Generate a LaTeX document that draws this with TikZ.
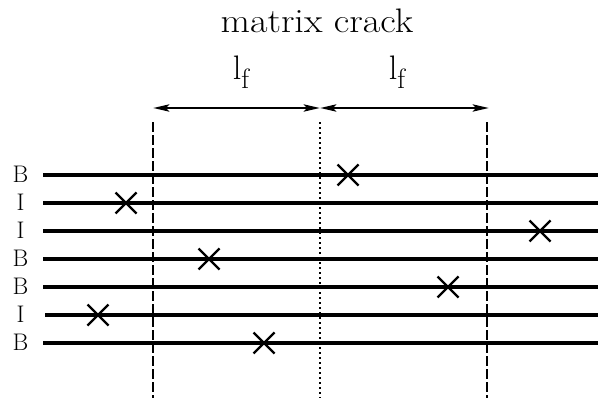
\documentclass[tikz,border=0pt]{standalone}
\usetikzlibrary{arrows.meta}
\begin{document}
\begin{tikzpicture}[x=1pt,y=-1pt,
  fiber/.style={line width=3.3pt},
  lbl/.style={font=\fontsize{24}{26}\selectfont, anchor=base, inner sep=0pt},
  big/.style={font=\fontsize{34}{36}\selectfont, anchor=base, inner sep=0pt},
  brk/.style={line width=2.3pt},
  dashv/.style={line width=2pt, dash pattern=on 10pt off 3pt},
  dotv/.style={line width=2.8pt, dash pattern=on 2.2pt off 2.8pt},
  dim/.style={line width=2.8pt, {Stealth[length=16pt,width=7pt,inset=3pt]}-{Stealth[length=16pt,width=7pt,inset=3pt]}}]
\useasboundingbox (0,0) rectangle (603,404);
% title and labels
\node[big] (title) at (317,33) {\scalebox{1.12}[1]{matrix crack}};
\node[big] (lf1) at (241,80) {l\raisebox{-9pt}{\fontsize{28}{28}\selectfont f}};
\node[big] (lf2) at (397,80) {l\raisebox{-9pt}{\fontsize{28}{28}\selectfont f}};
% vertical lines
\coordinate (dLt) at (153,122); \coordinate (dLb) at (153,398);
\coordinate (dMt) at (320,122); \coordinate (dMb) at (320,398);
\coordinate (dRt) at (487,122); \coordinate (dRb) at (487,398);
\coordinate (aL) at (153,108); \coordinate (aM) at (320,108); \coordinate (aR) at (489,108);
\draw[dim] (aL) -- (aM);
\draw[dim] (aM) -- (aR);
% fibers
\foreach \y/\t/\s [count=\i] in {175/B/43,203/I/43,231/I/43,259/B/43,287/B/43,315/I/45,343/B/43}{
  \node[lbl] (t\i) at (20.5,\y+7.5) {\t};
  \coordinate (s\i) at (\s,\y);
  \coordinate (e\i) at (598,\y);
  \draw[fiber] (s\i) -- (e\i);
}
\draw[dashv] (dLt) -- (dLb);
\draw[dotv] (dMt) -- (dMb);
\draw[dashv] (dRt) -- (dRb);
% breaks
\foreach \x/\y [count=\j] in {126/203,209/259,98/315,264/343,348/175,540/231,448/287}{
  \coordinate (c\j) at (\x,\y);
  \draw[brk] ([shift={(-10.5,-10.5)}]c\j) -- ([shift={(10.5,10.5)}]c\j);
  \draw[brk] ([shift={(-10.5,10.5)}]c\j) -- ([shift={(10.5,-10.5)}]c\j);
}
\end{tikzpicture}
\end{document}
